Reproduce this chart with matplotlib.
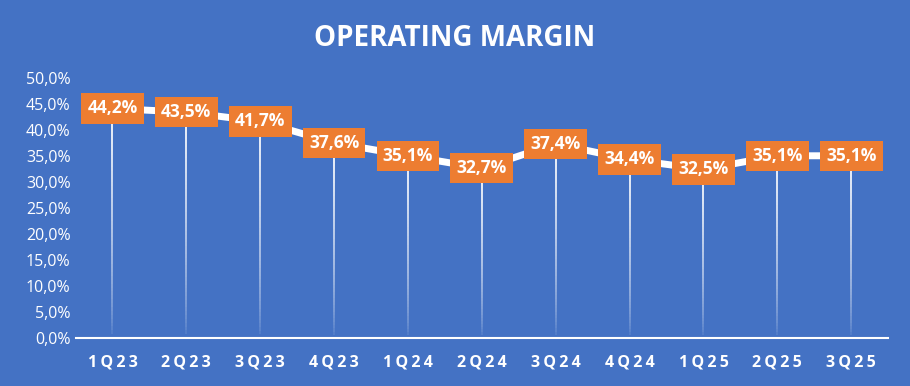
import numpy as np
import matplotlib
matplotlib.use('Agg')
import matplotlib.pyplot as plt
from matplotlib.collections import LineCollection

quarters = ['1Q23', '2Q23', '3Q23', '4Q23', '1Q24', '2Q24', '3Q24', '4Q24', '1Q25', '2Q25', '3Q25']
margin = [44.2, 43.5, 41.7, 37.6, 35.1, 32.7, 37.4, 34.4, 32.5, 35.1, 35.1]
yticks = np.arange(0, 50.1, 5)

blue = '#4472C4'
orange = '#ED7D31'
plt.rcParams['font.family'] = ['Open Sans', 'DejaVu Sans']

fig = plt.figure(figsize=(9.1, 3.86), dpi=100, facecolor=blue)
ax = fig.add_axes([0.083, 0.124, 0.893, 0.673])
ax.set_facecolor(blue)
x = np.arange(len(quarters))

# drop lines fading out toward the axis
for xi, v in zip(x, margin):
    ys = np.linspace(0, v, 60)
    segs = [[(xi, ys[k]), (xi, ys[k + 1])] for k in range(len(ys) - 1)]
    alphas = np.linspace(0.0, 1.0, len(segs)) ** 0.6
    cols = [(1, 1, 1, a) for a in alphas]
    ax.add_collection(LineCollection(segs, colors=cols, linewidths=1.3, zorder=2))

ax.plot(x, margin, color='white', lw=5, solid_capstyle='round', zorder=3)

for xi, v in zip(x, margin):
    ax.text(xi, v, f'{v:.1f}%'.replace('.', ','), ha='center', va='center',
            color='white', fontsize=12.5, fontweight='bold', zorder=5,
            bbox=dict(boxstyle='square,pad=0.36', fc=orange, ec='none'))

ax.set_xlim(-0.5, len(quarters) - 0.5)
ax.set_ylim(0, 50)
ax.set_xticks(x)
ax.set_xticklabels([' '.join(list(q)).replace(' ', '\u2009') for q in quarters])
ax.set_yticks(yticks)
ax.set_yticklabels([f'{t:.1f}%'.replace('.', ',') for t in yticks])
for s in ['top', 'right', 'left']:
    ax.spines[s].set_visible(False)
ax.spines['bottom'].set_color('white')
ax.spines['bottom'].set_linewidth(1.5)
ax.tick_params(axis='both', length=0, colors='white', labelsize=11.5)
ax.tick_params(axis='x', pad=12)
for lab in ax.get_xticklabels():
    lab.set_fontweight('bold')

fig.text(0.5, 0.9, 'OPERATING MARGIN', ha='center', va='center', color='white',
         fontsize=20, fontweight='bold')

fig.savefig('out.png', dpi=100, facecolor=blue)
